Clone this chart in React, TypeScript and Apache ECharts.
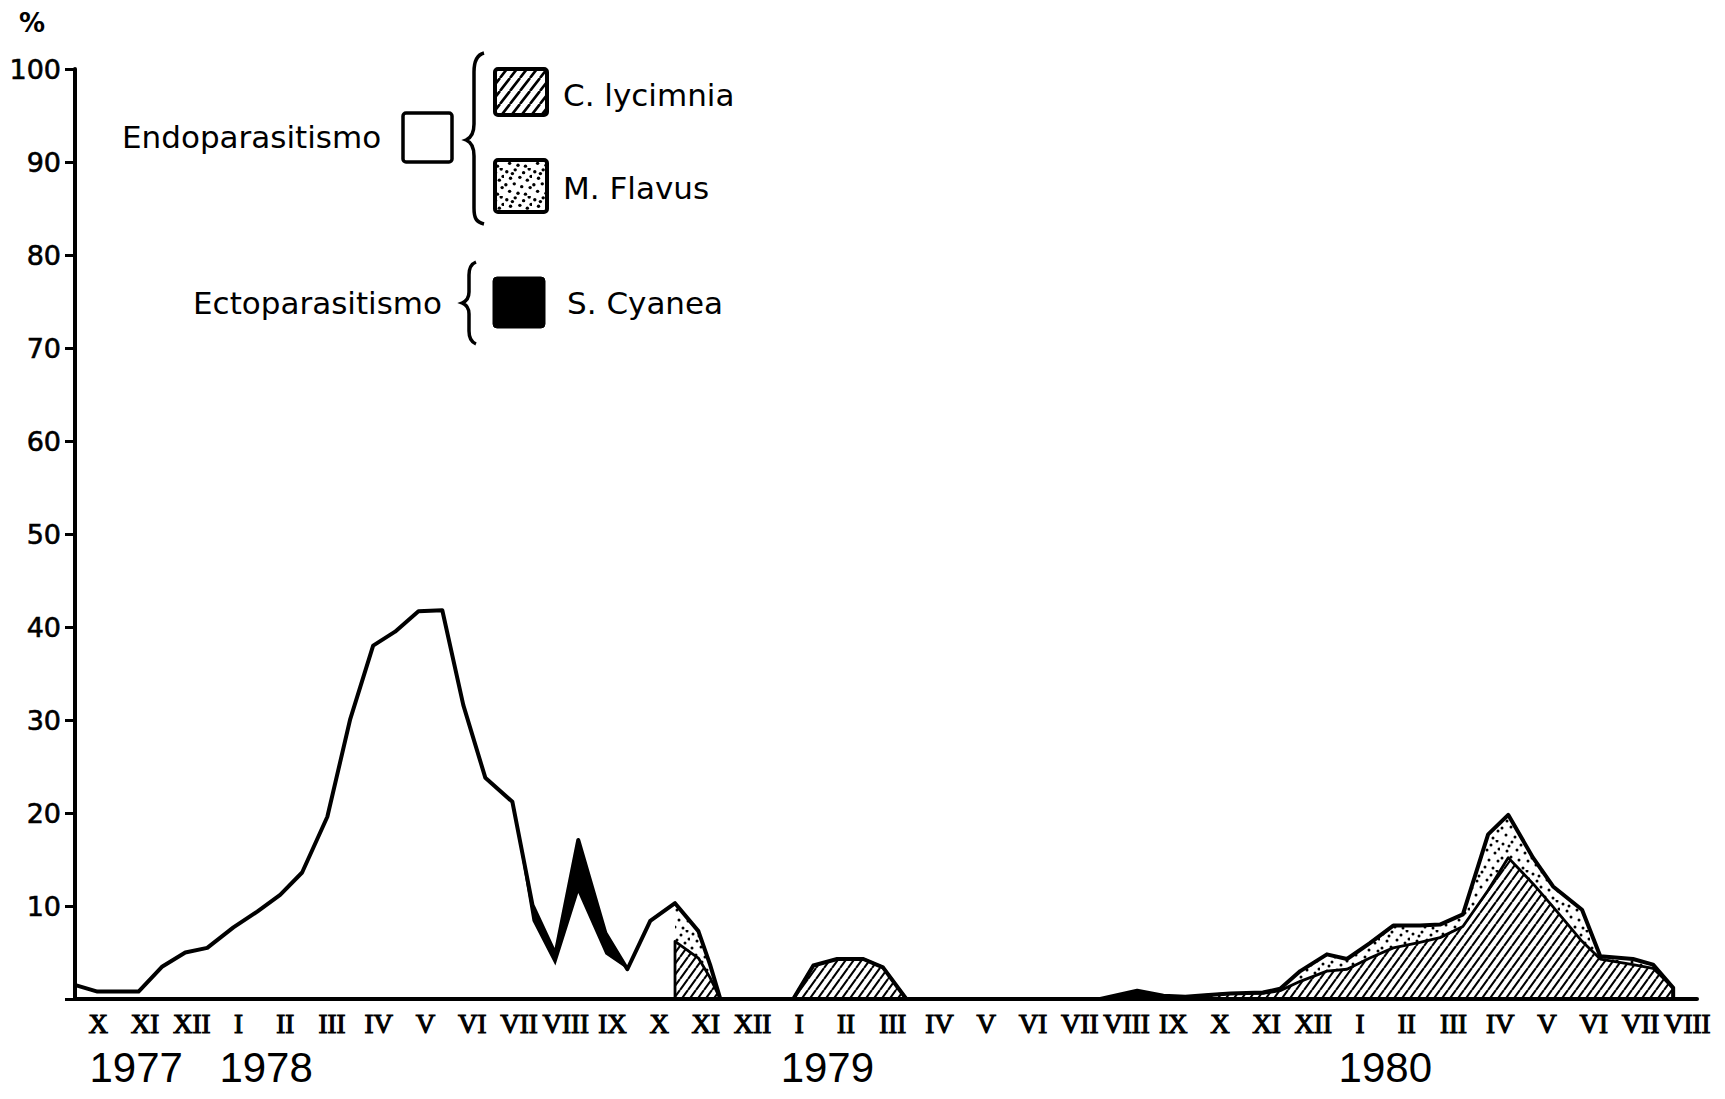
import React, { useEffect, useRef } from "react";
import * as echarts from "echarts";

// Position along the time axis, in months counted from October 1977 (0 = X 1977).
const monthPos = [
  -0.49, -0.02, 0.86, 1.37, 1.86, 2.33, 2.89, 3.4, 3.89, 4.36, 4.9, 5.39, 5.88, 6.35, 6.85, 7.36,
  7.81, 8.28, 8.86, 9.29, 9.78, 10.27, 10.85, 11.32, 11.81, 12.34, 12.34, 12.84, 13.09, 13.31,
  14.87, 15.3, 15.81, 16.37, 16.79, 17.29, 21.44, 22.23, 22.79, 23.26, 23.68, 24.22, 24.92,
  25.29, 25.72, 26.29, 26.72, 27.21, 27.71, 28.28, 28.71, 29.2, 29.74, 30.17, 30.7, 31.13,
  31.75, 32.14, 32.84, 33.27, 33.7, 33.7,
];

// Endoparasitism by C. lycimnia, %
const lycimnia = [
  0, 0, 0, 0, 0, 0, 0, 0, 0, 0, 0, 0, 0, 0, 0, 0,
  0, 0, 0, 0, 0, 0, 0, 0, 0, 0, 6.2, 4.4, 2.3, 0,
  0, 3.6, 4.3, 4.3, 3.4, 0, 0, 0, 0, 0, 0.4, 0.6, 0.6,
  0.9, 1.9, 3.0, 3.2, 4.4, 5.5, 6.1, 6.6, 7.8, 11.7, 15.2, 12.4, 9.9,
  6.2, 4.3, 3.7, 3.3, 1.2, 0,
];

// Endoparasitism by M. flavus, %
const flavus = [
  0, 0, 0, 0, 0, 0, 0, 0, 0, 0, 0, 0, 0, 0, 0, 0,
  0, 0, 0, 0, 0, 0, 0, 0, 0, 0, 4.1, 2.9, 1.4, 0,
  0, 0, 0, 0, 0, 0, 0, 0, 0, 0, 0, 0, 0.1,
  0.2, 1.1, 1.8, 1.1, 1.6, 2.4, 1.8, 1.4, 1.3, 6.0, 4.6, 2.8, 2.2,
  3.4, 0.3, 0.6, 0.4, 0, 0,
];

// Endoparasitism, total (before the species were told apart), %
const endoTotal = [
  1.5, 0.8, 0.8, 3.5, 5.0, 5.5, 7.7, 9.4, 11.2, 13.6, 19.6, 30.1, 38.0, 39.5, 41.7, 41.8,
  31.6, 23.8, 21.2, 8.4, 3.6, 11.4, 4.8, 3.2, 8.4, 10.3, 0, 0, 0, 0,
  0, 0, 0, 0, 0, 0, 0, 0, 0, 0, 0, 0, 0,
  0, 0, 0, 0, 0, 0, 0, 0, 0, 0, 0, 0, 0,
  0, 0, 0, 0, 0, 0,
];

// Ectoparasitism by S. cyanea, %
const cyanea = [
  0, 0, 0, 0, 0, 0, 0, 0, 0, 0, 0, 0, 0, 0, 0, 0,
  0, 0, 0, 1.7, 1.2, 5.7, 2.3, 0, 0, 0, 0, 0, 0, 0,
  0, 0, 0, 0, 0, 0, 0, 0.9, 0.35, 0.25, 0, 0, 0,
  0, 0, 0, 0, 0, 0, 0, 0, 0, 0, 0, 0, 0,
  0, 0, 0, 0, 0, 0,
];

const monthLabels = [
  "X", "XI", "XII",
  "I", "II", "III", "IV", "V", "VI", "VII", "VIII", "IX", "X", "XI", "XII",
  "I", "II", "III", "IV", "V", "VI", "VII", "VIII", "IX", "X", "XI", "XII",
  "I", "II", "III", "IV", "V", "VI", "VII", "VIII",
];
const monthTicks = monthLabels.map((_, i) => i);

const yearLabels = ["1977", "1978", "1979", "1980"];
const yearPos = [0.81, 3.59, 15.6, 27.54];

const BRACE_ENDO =
  "M484 53 C476 55 474 62 474 72 L474 124 C474 133 471 138 466 140 C471 142 474 147 474 156 L474 208 C474 218 476 222 484 224";
const BRACE_ECTO =
  "M476 262 C471 264 469 268 469 275 L469 292 C469 298 467 301 462 303 C467 305 469 308 469 314 L469 331 C469 338 471 342 476 344";

function hatchTile(w: number, h: number, lw: number) {
  const c = document.createElement("canvas");
  c.width = w;
  c.height = h;
  const ctx = c.getContext("2d")!;
  ctx.fillStyle = "#fff";
  ctx.fillRect(0, 0, w, h);
  ctx.strokeStyle = "#000";
  ctx.lineWidth = lw;
  ctx.beginPath();
  for (const k of [-1, 0, 1]) {
    ctx.moveTo(k * w, h);
    ctx.lineTo((k + 1) * w, 0);
  }
  ctx.stroke();
  return c;
}

// Stipple tile: a fixed, uneven scatter of dots on a 30x30 cell.
const STIPPLE = [
  [3, 4], [12, 2], [21, 5], [27, 1], [7, 11], [17, 10], [25, 13], [2, 18], [11, 17],
  [19, 20], [28, 21], [6, 25], [15, 27], [23, 28], [9, 6], [29, 9],
];
function dotTile(size: number, r: number) {
  const c = document.createElement("canvas");
  c.width = size;
  c.height = size;
  const ctx = c.getContext("2d")!;
  ctx.fillStyle = "#fff";
  ctx.fillRect(0, 0, size, size);
  ctx.fillStyle = "#000";
  const s = size / 30;
  for (const [x, y] of STIPPLE) {
    ctx.beginPath();
    ctx.arc(x * s, y * s, r, 0, Math.PI * 2);
    ctx.fill();
  }
  return c;
}

export default function App() {
  const ref = useRef<HTMLDivElement>(null);

  useEffect(() => {
    document.body.style.margin = "0";
    try {
      echarts.graphic.registerShape("braceEndo", echarts.graphic.extendPath(BRACE_ENDO, {}));
      echarts.graphic.registerShape("braceEcto", echarts.graphic.extendPath(BRACE_ECTO, {}));
    } catch (e) {
      /* already registered */
    }

    const hatch = { image: hatchTile(8, 11, 2.1), repeat: "repeat" };
    const dots = { image: dotTile(30, 1.5), repeat: "repeat" };
    const hatchLegend = { image: hatchTile(10, 13, 2.6), repeat: "repeat" };
    const dotsLegend = { image: dotTile(28, 1.7), repeat: "repeat" };

    // Layers are cumulative from the baseline: hatched, + dotted, + white, + black.
    const layerLyc = lycimnia;
    const layerFlav = lycimnia.map((v, i) => v + flavus[i]);
    const layerEndo = layerFlav.map((v, i) => v + endoTotal[i]);
    const layerAll = layerEndo.map((v, i) => v + cyanea[i]);
    const pairs = (arr: number[]) => monthPos.map((m, i) => [m, +arr[i].toFixed(2)]);

    const chart = echarts.init(ref.current!, null, { renderer: "svg" });
    const base = {
      type: "line",
      symbol: "none",
      showSymbol: false,
      smooth: false,
      xAxisIndex: 0,
      yAxisIndex: 0,
    };
    const font = "'DejaVu Sans', sans-serif";

    chart.setOption({
      animation: false,
      backgroundColor: "#fff",
      grid: { left: 75, right: 28, top: 69, bottom: 100, containLabel: false },
      xAxis: [
        {
          type: "value",
          min: -0.5,
          max: 34.21,
          z: 10,
          axisLine: { show: true, onZero: false, lineStyle: { color: "#000", width: 4 } },
          axisTick: { show: false },
          splitLine: { show: false },
          axisLabel: {
            customValues: monthTicks,
            formatter: (v: number) => monthLabels[Math.round(v)] ?? "",
            color: "#000",
            fontFamily: "'Liberation Serif', 'DejaVu Serif', serif",
            fontSize: 27,
            textBorderColor: "#000",
            textBorderWidth: 1.1,
            margin: 11,
          },
        },
        {
          type: "value",
          min: -0.5,
          max: 34.21,
          position: "bottom",
          axisLine: { show: false },
          axisTick: { show: false },
          splitLine: { show: false },
          axisLabel: {
            customValues: yearPos,
            formatter: (v: number) => {
              const i = yearPos.findIndex((p) => Math.abs(p - v) < 0.01);
              return i >= 0 ? yearLabels[i] : "";
            },
            color: "#000",
            fontFamily: "'Liberation Sans Narrow', 'Liberation Sans', sans-serif",
            fontSize: 42,
            margin: 47,
          },
        },
      ],
      yAxis: {
        type: "value",
        min: 0,
        max: 100,
        interval: 10,
        z: 10,
        axisLine: { show: true, onZero: false, lineStyle: { color: "#000", width: 4 } },
        axisTick: { show: true, inside: false, length: 10, lineStyle: { color: "#000", width: 3 } },
        splitLine: { show: false },
        axisLabel: {
          formatter: (v: number) => (v === 0 ? "" : String(v)),
          color: "#000",
          fontFamily: font,
          fontSize: 27,
          textBorderColor: "#000",
          textBorderWidth: 0.6,
          margin: 14,
        },
      },
      series: [
        {
          ...base,
          name: "S. Cyanea",
          data: pairs(layerAll),
          lineStyle: { width: 0, opacity: 0 },
          areaStyle: { color: "#000", opacity: 1 },
          z: 2,
        },
        {
          ...base,
          name: "Endoparasitismo",
          data: pairs(layerEndo),
          lineStyle: { width: 0, opacity: 0 },
          areaStyle: { color: "#fff", opacity: 1 },
          z: 3,
        },
        {
          ...base,
          name: "M. Flavus",
          data: pairs(layerFlav),
          lineStyle: { width: 0, opacity: 0 },
          areaStyle: { color: dots, opacity: 1 },
          z: 4,
        },
        {
          ...base,
          name: "C. lycimnia",
          data: pairs(layerLyc),
          lineStyle: { color: "#000", width: 2.8, join: "round" },
          areaStyle: { color: hatch, opacity: 1 },
          z: 5,
        },
        {
          ...base,
          name: "Total",
          data: pairs(layerAll),
          lineStyle: { color: "#000", width: 4, join: "round" },
          z: 6,
        },
      ],
      graphic: [
        {
          type: "text",
          x: 19,
          y: 10,
          style: { text: "%", fill: "#000", font: "bold 26px " + font },
        },
        {
          type: "text",
          x: 122,
          y: 137,
          style: { text: "Endoparasitismo", fill: "#000", font: "31px " + font, verticalAlign: "middle" },
        },
        {
          type: "rect",
          shape: { x: 403, y: 113, width: 49, height: 49, r: 3 },
          style: { fill: "#fff", stroke: "#000", lineWidth: 3.5 },
        },
        { type: "braceEndo", x: 0, y: 0, style: { fill: "none", stroke: "#000", lineWidth: 3.5 } },
        {
          type: "rect",
          shape: { x: 495, y: 69, width: 52, height: 46, r: 3 },
          style: { fill: hatchLegend, stroke: "#000", lineWidth: 4 },
        },
        {
          type: "text",
          x: 563,
          y: 95,
          style: { text: "C. lycimnia", fill: "#000", font: "31px " + font, verticalAlign: "middle" },
        },
        {
          type: "rect",
          shape: { x: 495, y: 160, width: 52, height: 52, r: 3 },
          style: { fill: dotsLegend, stroke: "#000", lineWidth: 4 },
        },
        {
          type: "text",
          x: 563,
          y: 188,
          style: { text: "M. Flavus", fill: "#000", font: "31px " + font, verticalAlign: "middle" },
        },
        {
          type: "text",
          x: 193,
          y: 303,
          style: { text: "Ectoparasitismo", fill: "#000", font: "31px " + font, verticalAlign: "middle" },
        },
        { type: "braceEcto", x: 0, y: 0, style: { fill: "none", stroke: "#000", lineWidth: 3.5 } },
        {
          type: "rect",
          shape: { x: 493, y: 277, width: 52, height: 51, r: 4 },
          style: { fill: "#000", stroke: "#000", lineWidth: 1 },
        },
        {
          type: "text",
          x: 567,
          y: 303,
          style: { text: "S. Cyanea", fill: "#000", font: "31px " + font, verticalAlign: "middle" },
        },
      ],
    });

    return () => chart.dispose();
  }, []);

  return (
    <div
      ref={ref}
      style={{ position: "absolute", left: 0, top: 0, width: 1725, height: 1099, background: "#fff" }}
    />
  );
}
